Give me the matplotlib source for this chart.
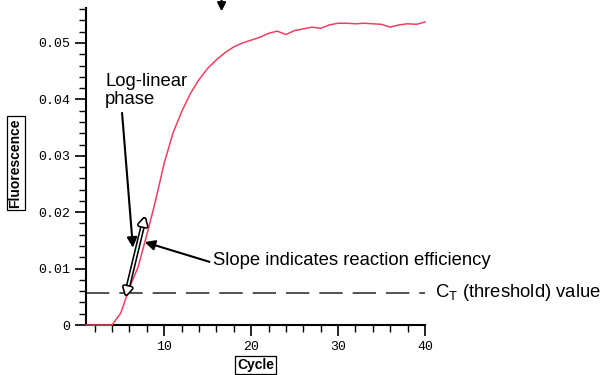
import matplotlib
matplotlib.use("Agg")
import matplotlib.pyplot as plt
import matplotlib.patheffects as pe
from matplotlib.ticker import MultipleLocator, FixedLocator

# amplification curve
cycles = list(range(1, 41))
fluor = [0, 0, 0, 0, 0.0021, 0.0066, 0.0103, 0.0160, 0.0220, 0.0287,
         0.0340, 0.0378, 0.0410, 0.0435, 0.0455, 0.0470, 0.0483, 0.0493, 0.0500, 0.0505,
         0.0510, 0.0517, 0.0521, 0.0515, 0.0522, 0.0525, 0.0528, 0.0526, 0.0532, 0.0535,
         0.0535, 0.0534, 0.0535, 0.0534, 0.0533, 0.0528, 0.0532, 0.0534, 0.0533, 0.0537]
threshold = 0.0057
x_major = [10, 20, 30, 40]
y_major = [0, 0.01, 0.02, 0.03, 0.04, 0.05]
y_labels = ["0", "0.01", "0.02", "0.03", "0.04", "0.05"]

fig = plt.figure(figsize=(6.03, 3.75), dpi=100)
ax = fig.add_axes([0.1426, 0.1333, 0.5622, 0.8454])

ax.plot(cycles, fluor, color="#f0405f", lw=1.1, clip_on=False, zorder=5)
ax.plot([1, 40], [threshold, threshold], color="#333333", lw=1.2,
        dashes=(14, 6), clip_on=False)

ax.set_xlim(1, 40)
ax.set_ylim(0, 0.0562)
for s in ["top", "right"]:
    ax.spines[s].set_visible(False)
for s in ["left", "bottom"]:
    ax.spines[s].set_linewidth(1.5)

ax.xaxis.set_major_locator(FixedLocator(x_major))
ax.xaxis.set_minor_locator(MultipleLocator(2))
ax.yaxis.set_major_locator(FixedLocator(y_major))
ax.yaxis.set_minor_locator(MultipleLocator(0.002))
ax.set_yticklabels(y_labels)
ax.tick_params(which="major", length=8, width=1.2, direction="out")
ax.tick_params(which="minor", length=5, width=1.0, direction="out")
for lab in ax.get_xticklabels() + ax.get_yticklabels():
    lab.set_fontfamily("Liberation Mono")
    lab.set_fontsize(9.5)

box = dict(boxstyle="square,pad=0.15", fc="white", ec="black", lw=0.9)
ax.set_ylabel("Fluorescence", fontsize=10, fontweight="bold",
              fontfamily="Liberation Sans", bbox=box)
ax.yaxis.set_label_coords(-0.187, 0.511)
ax.set_xlabel("Cycle", fontsize=10, fontweight="bold",
              fontfamily="Liberation Sans", bbox=box)
ax.xaxis.set_label_coords(0.5, -0.105)

font = dict(fontfamily="Liberation Sans", fontsize=13.3)

ax.text(3.2, 0.0447, "Log-linear\nphase", ha="left", va="top",
        linespacing=1.1, **font)
ax.annotate("", xy=(6.4, 0.0137), xytext=(5.15, 0.0376),
            arrowprops=dict(arrowstyle="-|>,head_length=0.6,head_width=0.3",
                            color="black", lw=1.5, shrinkA=0, shrinkB=0))

ax.text(15.65, 0.0115, "Slope indicates reaction efficiency",
        ha="left", va="center", **font)
ax.annotate("", xy=(7.75, 0.0147), xytext=(15.2, 0.0112),
            arrowprops=dict(arrowstyle="-|>,head_length=0.6,head_width=0.3",
                            color="black", lw=1.5, shrinkA=0, shrinkB=0))

ax.annotate("", xy=(5.6, 0.0053), xytext=(7.75, 0.0190),
            arrowprops=dict(arrowstyle="<|-|>,head_length=0.45,head_width=0.25",
                            color="white", lw=1.2, shrinkA=0, shrinkB=0,
                            path_effects=[pe.Stroke(linewidth=3.5, foreground="black"),
                                          pe.Normal()]), zorder=6)

ax.annotate("", xy=(16.6, 0.0556), xytext=(16.6, 0.0605),
            arrowprops=dict(arrowstyle="-|>,head_length=0.5,head_width=0.25",
                            color="black", lw=1.5, shrinkA=0, shrinkB=0),
            annotation_clip=False)

ax.text(41.2, threshold, r"C$_\mathregular{T}$ (threshold) value",
        ha="left", va="center", clip_on=False, **font)

fig.savefig("out.png", dpi=100)
